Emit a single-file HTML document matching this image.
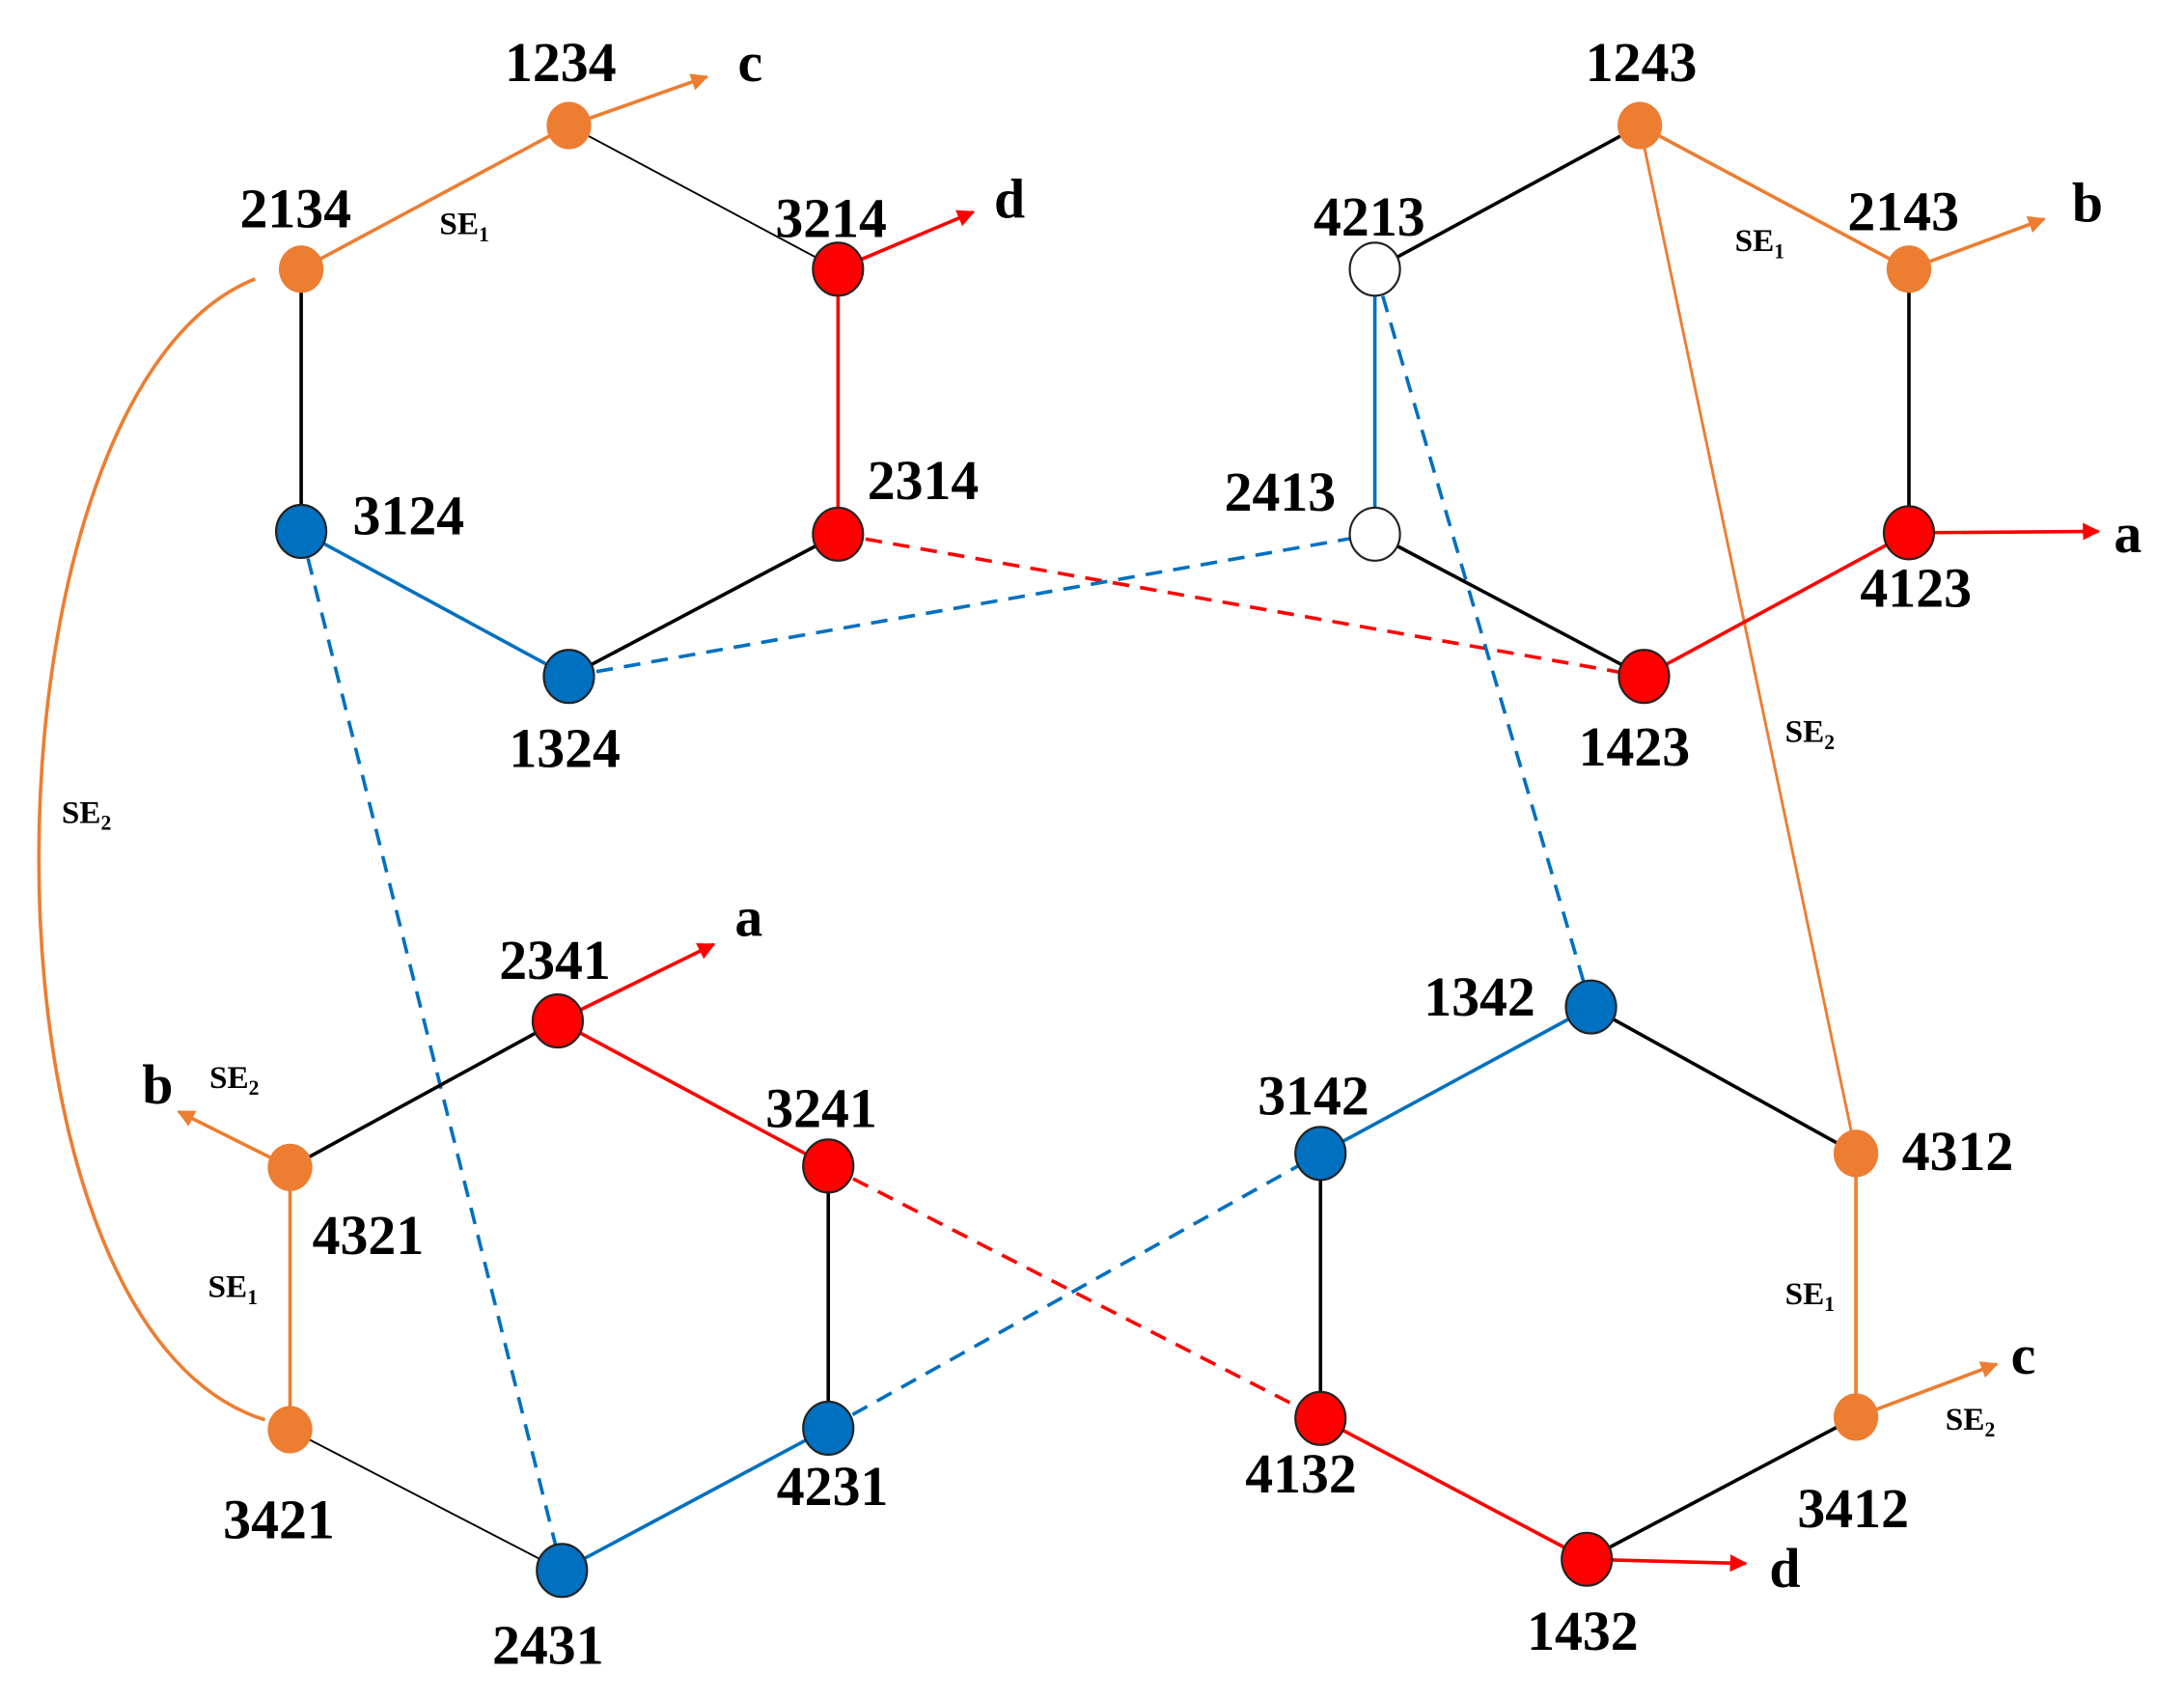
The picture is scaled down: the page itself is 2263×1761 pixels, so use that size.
<!DOCTYPE html>
<html><head><style>html,body{margin:0;padding:0;background:#fff}svg{display:block}</style></head>
<body>
<svg width="2263" height="1761" viewBox="0 0 1560 1214" preserveAspectRatio="none" xmlns="http://www.w3.org/2000/svg">
<defs>
<marker id="ao" viewBox="0 0 10 10" refX="9" refY="5" markerWidth="5" markerHeight="5" orient="auto"><path d="M0,0L10,5L0,10z" fill="#ed7d31"/></marker>
<marker id="ar" viewBox="0 0 10 10" refX="9" refY="5" markerWidth="5" markerHeight="5" orient="auto"><path d="M0,0L10,5L0,10z" fill="#ff0000"/></marker>
</defs>
<g transform="scale(0.996)">
<g fill="none" stroke-width="2.5">
<line x1="408" y1="90" x2="216" y2="193" stroke="#ed7d31"/>
<line x1="408" y1="90" x2="601" y2="193" stroke="#000" stroke-width="1.3"/>
<line x1="216" y1="193" x2="216" y2="381" stroke="#000"/>
<line x1="601" y1="193" x2="601" y2="383" stroke="#f00"/>
<line x1="216" y1="381" x2="408" y2="485" stroke="#0070c0"/>
<line x1="601" y1="383" x2="408" y2="485" stroke="#000"/>
<line x1="408" y1="90" x2="507" y2="55" stroke="#ed7d31" marker-end="url(#ao)"/>
<line x1="601" y1="193" x2="698" y2="152" stroke="#f00" marker-end="url(#ar)"/>
<line x1="601" y1="383" x2="1179" y2="485" stroke="#f00" stroke-dasharray="12,8"/>
<line x1="408" y1="485" x2="986" y2="383" stroke="#0070c0" stroke-dasharray="12,8"/>
<line x1="216" y1="381" x2="403" y2="1126" stroke="#0070c0" stroke-dasharray="12,8"/>
<line x1="986" y1="193" x2="1141" y2="722" stroke="#0070c0" stroke-dasharray="12,8"/>
<line x1="594" y1="836" x2="947" y2="1017" stroke="#f00" stroke-dasharray="12,8"/>
<line x1="594" y1="1024" x2="947" y2="827" stroke="#0070c0" stroke-dasharray="12,8"/>
<line x1="1176" y1="90" x2="986" y2="193" stroke="#000"/>
<line x1="1176" y1="90" x2="1369" y2="193" stroke="#ed7d31"/>
<line x1="1176" y1="90" x2="1331" y2="827" stroke="#ed7d31" stroke-width="2"/>
<line x1="986" y1="193" x2="986" y2="383" stroke="#0070c0"/>
<line x1="1369" y1="193" x2="1369" y2="382" stroke="#000"/>
<line x1="986" y1="383" x2="1179" y2="485" stroke="#000"/>
<line x1="1179" y1="485" x2="1369" y2="382" stroke="#f00"/>
<line x1="1369" y1="193" x2="1466" y2="157" stroke="#ed7d31" marker-end="url(#ao)"/>
<line x1="1369" y1="382" x2="1505" y2="381" stroke="#f00" marker-end="url(#ar)"/>
<line x1="400" y1="732" x2="208" y2="837" stroke="#000"/>
<line x1="400" y1="732" x2="594" y2="836" stroke="#f00"/>
<line x1="208" y1="837" x2="208" y2="1025" stroke="#ed7d31"/>
<line x1="594" y1="836" x2="594" y2="1024" stroke="#000"/>
<line x1="208" y1="1025" x2="403" y2="1126" stroke="#000" stroke-width="1.3"/>
<line x1="403" y1="1126" x2="594" y2="1024" stroke="#0070c0"/>
<line x1="400" y1="732" x2="512" y2="677" stroke="#f00" marker-end="url(#ar)"/>
<line x1="208" y1="837" x2="128" y2="797" stroke="#ed7d31" marker-end="url(#ao)"/>
<line x1="1141" y1="722" x2="947" y2="827" stroke="#0070c0"/>
<line x1="1141" y1="722" x2="1331" y2="827" stroke="#000"/>
<line x1="947" y1="827" x2="947" y2="1017" stroke="#000"/>
<line x1="1331" y1="827" x2="1331" y2="1016" stroke="#ed7d31"/>
<line x1="947" y1="1017" x2="1138" y2="1118" stroke="#f00"/>
<line x1="1138" y1="1118" x2="1331" y2="1016" stroke="#000"/>
<line x1="1331" y1="1016" x2="1432" y2="978" stroke="#ed7d31" marker-end="url(#ao)"/>
<line x1="1138" y1="1118" x2="1252" y2="1121" stroke="#f00" marker-end="url(#ar)"/>
<path d="M183,200 C-20,280 -30,950 190,1018" stroke="#ed7d31"/>
</g>
<g stroke-width="1.5">
<ellipse cx="408" cy="90" rx="16" ry="17" fill="#ed7d31"/>
<ellipse cx="216" cy="193" rx="16" ry="17" fill="#ed7d31"/>
<ellipse cx="601" cy="193" rx="18" ry="19" fill="#f00" stroke="#222"/>
<ellipse cx="216" cy="381" rx="18" ry="19" fill="#0070c0" stroke="#222"/>
<ellipse cx="601" cy="383" rx="18" ry="19" fill="#f00" stroke="#222"/>
<ellipse cx="408" cy="485" rx="18" ry="19" fill="#0070c0" stroke="#222"/>
<ellipse cx="1176" cy="90" rx="16" ry="17" fill="#ed7d31"/>
<ellipse cx="986" cy="193" rx="18" ry="19" fill="#fff" stroke="#222"/>
<ellipse cx="1369" cy="193" rx="16" ry="17" fill="#ed7d31"/>
<ellipse cx="986" cy="383" rx="18" ry="19" fill="#fff" stroke="#222"/>
<ellipse cx="1369" cy="382" rx="18" ry="19" fill="#f00" stroke="#222"/>
<ellipse cx="1179" cy="485" rx="18" ry="19" fill="#f00" stroke="#222"/>
<ellipse cx="400" cy="732" rx="18" ry="19" fill="#f00" stroke="#222"/>
<ellipse cx="208" cy="837" rx="16" ry="17" fill="#ed7d31"/>
<ellipse cx="594" cy="836" rx="18" ry="19" fill="#f00" stroke="#222"/>
<ellipse cx="208" cy="1025" rx="16" ry="17" fill="#ed7d31"/>
<ellipse cx="594" cy="1024" rx="18" ry="19" fill="#0070c0" stroke="#222"/>
<ellipse cx="403" cy="1126" rx="18" ry="19" fill="#0070c0" stroke="#222"/>
<ellipse cx="1141" cy="722" rx="18" ry="19" fill="#0070c0" stroke="#222"/>
<ellipse cx="947" cy="827" rx="18" ry="19" fill="#0070c0" stroke="#222"/>
<ellipse cx="1331" cy="827" rx="16" ry="17" fill="#ed7d31"/>
<ellipse cx="947" cy="1017" rx="18" ry="19" fill="#f00" stroke="#222"/>
<ellipse cx="1331" cy="1016" rx="16" ry="17" fill="#ed7d31"/>
<ellipse cx="1138" cy="1118" rx="18" ry="19" fill="#f00" stroke="#222"/>
</g>
<g font-family="Liberation Serif, serif" font-weight="bold" font-size="40" text-anchor="middle" fill="#000">
<text x="402" y="58">1234</text>
<text x="212" y="163">2134</text>
<text x="596" y="170">3214</text>
<text x="293" y="383">3124</text>
<text x="662" y="358">2314</text>
<text x="405" y="550">1324</text>
<text x="1177" y="58">1243</text>
<text x="982" y="169">4213</text>
<text x="1365" y="165">2143</text>
<text x="918" y="366">2413</text>
<text x="1374" y="435">4123</text>
<text x="1172" y="549">1423</text>
<text x="538" y="58">c</text>
<text x="724" y="156">d</text>
<text x="1497" y="159">b</text>
<text x="1526" y="396">a</text>
<text x="398" y="702">2341</text>
<text x="537" y="671">a</text>
<text x="113" y="791">b</text>
<text x="264" y="899">4321</text>
<text x="589" y="808">3241</text>
<text x="200" y="1103">3421</text>
<text x="597" y="1079">4231</text>
<text x="393" y="1193">2431</text>
<text x="1061" y="728">1342</text>
<text x="942" y="799">3142</text>
<text x="1404" y="839">4312</text>
<text x="933" y="1070">4132</text>
<text x="1329" y="1095">3412</text>
<text x="1135" y="1183">1432</text>
<text x="1451" y="985">c</text>
<text x="1280" y="1138">d</text>
</g>
<g font-family="Liberation Serif, serif" font-weight="bold" font-size="23" text-anchor="middle" fill="#000">
<text x="333" y="168">SE<tspan font-size="15" dy="5">1</tspan></text>
<text x="62" y="590">SE<tspan font-size="15" dy="5">2</tspan></text>
<text x="1262" y="180">SE<tspan font-size="15" dy="5">1</tspan></text>
<text x="1298" y="532">SE<tspan font-size="15" dy="5">2</tspan></text>
<text x="168" y="780">SE<tspan font-size="15" dy="5">2</tspan></text>
<text x="167" y="930">SE<tspan font-size="15" dy="5">1</tspan></text>
<text x="1298" y="935">SE<tspan font-size="15" dy="5">1</tspan></text>
<text x="1413" y="1025">SE<tspan font-size="15" dy="5">2</tspan></text>
</g>
</g>
</svg>
</body></html>
